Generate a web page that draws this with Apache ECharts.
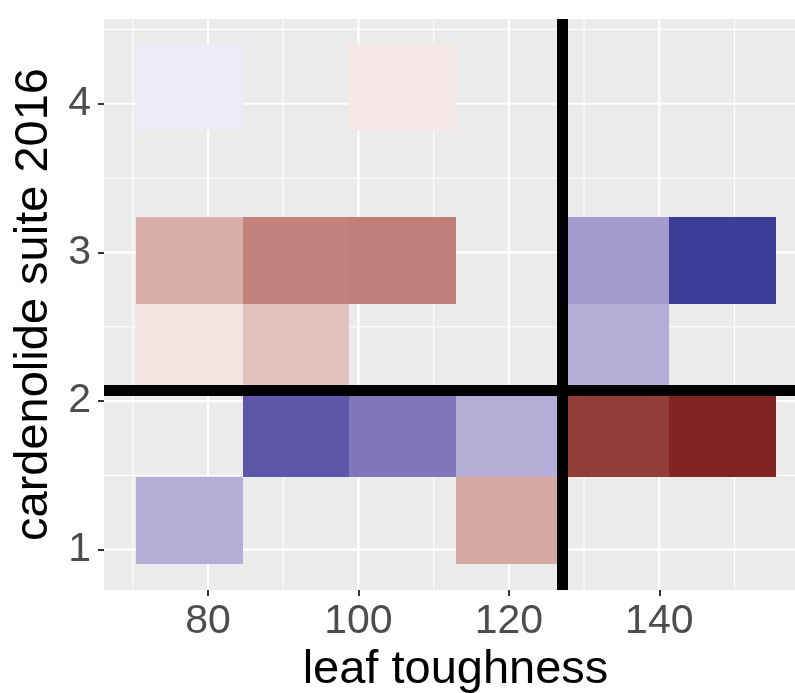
<!DOCTYPE html>
<html>
<head>
<meta charset="utf-8">
<script src="https://cdn.jsdelivr.net/npm/echarts@6/dist/echarts.min.js"></script>
<style>
  html, body { margin: 0; padding: 0; background: #fff; }
  #main { width: 795px; height: 693px; }
</style>
</head>
<body>
<div id="main"></div>
<script>
// tile centres (leaf toughness, cardenolide suite) and fill value
var tileX = [77.52, 105.88, 77.52, 91.70, 105.88, 134.24, 148.42, 77.52, 91.70, 134.24, 91.70, 105.88, 120.06, 134.24, 148.42, 77.52, 120.06];
var tileY = [4.1125, 4.1125, 2.9465, 2.9465, 2.9465, 2.9465, 2.9465, 2.3635, 2.3635, 2.3635, 1.7805, 1.7805, 1.7805, 1.7805, 1.7805, 1.1975, 1.1975];
var tileFill = [0.09, -0.10, -0.36, -0.56, -0.58, 0.48, 0.99, -0.12, -0.27, 0.39, 0.84, 0.67, 0.39, -0.89, -1.0, 0.39, -0.39];

var xMajor = [80, 100, 120, 140];
var xMinor = [70, 90, 110, 130, 150];
var yMajor = [1, 2, 3, 4];
var yMinor = [1.5, 2.5, 3.5, 4.5];

// reference lines
var vLine = 127.1;
var hLine = 2.068;

var tileW = 14.18, tileH = 0.583;

// gradient2 style scale: muted red -> white -> muted blue, mixed in Lab
function hexRgb(h) {
  return [parseInt(h.substr(1, 2), 16), parseInt(h.substr(3, 2), 16), parseInt(h.substr(5, 2), 16)];
}
function toLab(c) {
  var v = c.map(function (x) {
    x /= 255;
    return x <= 0.04045 ? x / 12.92 : Math.pow((x + 0.055) / 1.055, 2.4);
  });
  var X = (v[0] * 0.4124 + v[1] * 0.3576 + v[2] * 0.1805) / 0.95047;
  var Y = v[0] * 0.2126 + v[1] * 0.7152 + v[2] * 0.0722;
  var Z = (v[0] * 0.0193 + v[1] * 0.1192 + v[2] * 0.9505) / 1.08883;
  var f = function (t) { return t > 0.008856 ? Math.cbrt(t) : 7.787 * t + 16 / 116; };
  return [116 * f(Y) - 16, 500 * (f(X) - f(Y)), 200 * (f(Y) - f(Z))];
}
function fromLab(l) {
  var fy = (l[0] + 16) / 116, fx = fy + l[1] / 500, fz = fy - l[2] / 200;
  var g = function (t) { return t * t * t > 0.008856 ? t * t * t : (t - 16 / 116) / 7.787; };
  var X = g(fx) * 0.95047, Y = g(fy), Z = g(fz) * 1.08883;
  var r = X * 3.2406 - Y * 1.5372 - Z * 0.4986;
  var gg = -X * 0.9689 + Y * 1.8758 + Z * 0.0415;
  var b = X * 0.0557 - Y * 0.2040 + Z * 1.0570;
  var out = [r, gg, b].map(function (x) {
    x = x <= 0.0031308 ? 12.92 * x : 1.055 * Math.pow(x, 1 / 2.4) - 0.055;
    x = Math.round(Math.max(0, Math.min(1, x)) * 255);
    return ('0' + x.toString(16)).slice(-2);
  });
  return '#' + out.join('');
}
function mixLab(a, b, t) {
  var la = toLab(hexRgb(a)), lb = toLab(hexRgb(b));
  return fromLab([0, 1, 2].map(function (i) { return la[i] + (lb[i] - la[i]) * t; }));
}
var stops = [];
for (var i = 0; i <= 40; i++) {
  var t = -1 + i * 0.05;
  stops.push(t < 0 ? mixLab('#832424', '#FFFFFF', 1 + t) : mixLab('#FFFFFF', '#3A3A98', t));
}

var tiles = tileX.map(function (x, i) { return [x, tileY[i], tileFill[i]]; });

// grid line items: [value, width, 0 = vertical / 1 = horizontal]
var gridItems = [].concat(
  xMinor.map(function (v) { return [v, 1.1, 0]; }),
  yMinor.map(function (v) { return [v, 1.1, 1]; }),
  xMajor.map(function (v) { return [v, 2.2, 0]; }),
  yMajor.map(function (v) { return [v, 2.2, 1]; })
);

var font = '"Liberation Sans", Arial, Helvetica, sans-serif';

var myChart = echarts.init(document.getElementById('main'));
myChart.setOption({
  animation: false,
  grid: {
    left: 104, top: 19, right: 0, bottom: 103,
    outerBoundsMode: 'none',
    containLabel: false,
    show: true, backgroundColor: '#EBEBEB', borderWidth: 0
  },
  visualMap: {
    show: false,
    type: 'continuous',
    min: -1, max: 1,
    dimension: 2,
    seriesIndex: 1,
    inRange: { color: stops }
  },
  xAxis: {
    type: 'value',
    min: 66.17, max: 158.04,
    name: 'leaf toughness',
    nameLocation: 'middle',
    nameGap: 55,
    nameTextStyle: { fontSize: 47, color: '#000', fontFamily: font, padding: [0, 0, 0, 12] },
    axisLine: { show: false },
    axisTick: { show: true, customValues: xMajor, length: 6, lineStyle: { color: '#333', width: 2 } },
    axisLabel: { customValues: xMajor, fontSize: 41, color: '#4D4D4D', margin: 11, fontFamily: font },
    splitLine: { show: false }
  },
  yAxis: {
    type: 'value',
    min: 0.729, max: 4.57,
    name: 'cardenolide suite 2016',
    nameLocation: 'middle',
    nameGap: 44,
    nameTextStyle: { fontSize: 47, color: '#000', fontFamily: font },
    axisLine: { show: false },
    axisTick: { show: true, customValues: yMajor, length: 6, lineStyle: { color: '#333', width: 2 } },
    axisLabel: { customValues: yMajor, fontSize: 41, color: '#4D4D4D', margin: 13, fontFamily: font },
    splitLine: { show: false }
  },
  series: [
    {
      // panel grid lines
      type: 'custom',
      z: 1,
      silent: true,
      data: gridItems,
      renderItem: function (params, api) {
        var cs = params.coordSys;
        var v = api.value(0), w = api.value(1), horiz = api.value(2) === 1;
        var shape;
        if (horiz) {
          var py = api.coord([100, v])[1];
          shape = { x1: cs.x, y1: py, x2: cs.x + cs.width, y2: py };
        } else {
          var px = api.coord([v, 2])[0];
          shape = { x1: px, y1: cs.y, x2: px, y2: cs.y + cs.height };
        }
        return { type: 'line', shape: shape, style: { stroke: '#FFFFFF', lineWidth: w } };
      }
    },
    {
      type: 'custom',
      z: 2,
      data: tiles,
      renderItem: function (params, api) {
        var x = api.value(0), y = api.value(1);
        var p0 = api.coord([x - tileW / 2, y + tileH / 2]);
        var p1 = api.coord([x + tileW / 2, y - tileH / 2]);
        var x0 = Math.round(p0[0]), y0 = Math.round(p0[1]);
        var x1 = Math.round(p1[0]), y1 = Math.round(p1[1]);
        return {
          type: 'rect',
          shape: { x: x0, y: y0, width: x1 - x0, height: y1 - y0 },
          style: { fill: api.visual('color') }
        };
      }
    },
    {
      type: 'line',
      data: [],
      z: 3,
      silent: true,
      markLine: {
        silent: true,
        symbol: ['none', 'none'],
        label: { show: false },
        emphasis: { disabled: true },
        lineStyle: { color: '#000000', width: 11, type: 'solid' },
        data: [{ xAxis: vLine }, { yAxis: hLine }]
      }
    }
  ]
});
</script>
</body>
</html>
